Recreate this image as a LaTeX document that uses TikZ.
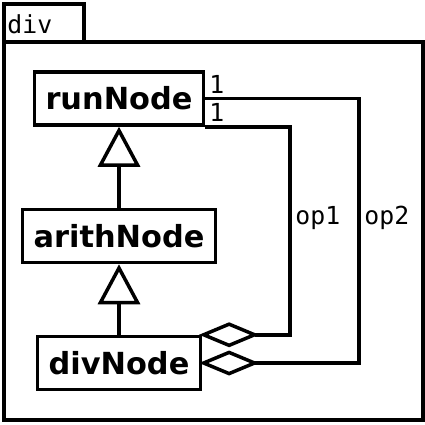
\documentclass[tikz,border=0pt]{standalone}
\usepackage{fontspec}
\setmainfont{DejaVu Sans}
\setmonofont{DejaVu Sans Mono}
\usetikzlibrary{arrows.meta}

\tikzset{
  umlclass/.style={draw, line width=1.75pt, minimum height=26.5pt, inner xsep=5.5pt,
    font=\fontsize{15.2}{18}\selectfont\bfseries},
  umllabel/.style={inner sep=0pt, font=\ttfamily\fontsize{12.4}{14}\selectfont},
  inherit/.style={line width=1.75pt, -{Triangle[open, length=20pt, width=21pt]}},
  aggr/.style={line width=1.75pt, shorten <=-1.5pt, {Diamond[open, length=30pt, width=12.5pt]}-},
}

\begin{document}
\begin{tikzpicture}[x=0.5pt, y=-0.5pt]
    \useasboundingbox (0,0) rectangle (425,425);
    % package frame
    \draw [line width=1.75pt] (4,42) rectangle (84,4);
    \draw [line width=1.75pt] (4,42) rectangle (423,420);
    \node [umllabel, anchor=west] (pkgname) at (7,24) {div};
    % classes
    \node [umlclass] (runNode) at (119,98.5) {runNode};
    \node [umlclass] (arithNode) at (119,236) {arithNode};
    \node [umlclass] (divNode) at (119,363) {divNode};
    \draw [inherit] (arithNode) -- (runNode);
    \draw [inherit] (divNode) -- (arithNode);
    % aggregations
    \coordinate (op1bend) at (290,0);
    \coordinate (op2bend) at (359,0);
    \draw [aggr] (divNode.north east) -| (op1bend |- runNode.south east) -- (runNode.south east);
    \draw [aggr] (divNode.east) -| (op2bend |- runNode.east) -- (runNode.east);
    \node [umllabel, anchor=west] (op1lbl) at (295,218) {op1};
    \node [umllabel, anchor=west] (op2lbl) at (364,218) {op2};
    \node [umllabel, anchor=south west] (multop2) at (209,94) {1};
    \node [umllabel, anchor=north west] (multop1) at (209,103) {1};
\end{tikzpicture}
\end{document}
